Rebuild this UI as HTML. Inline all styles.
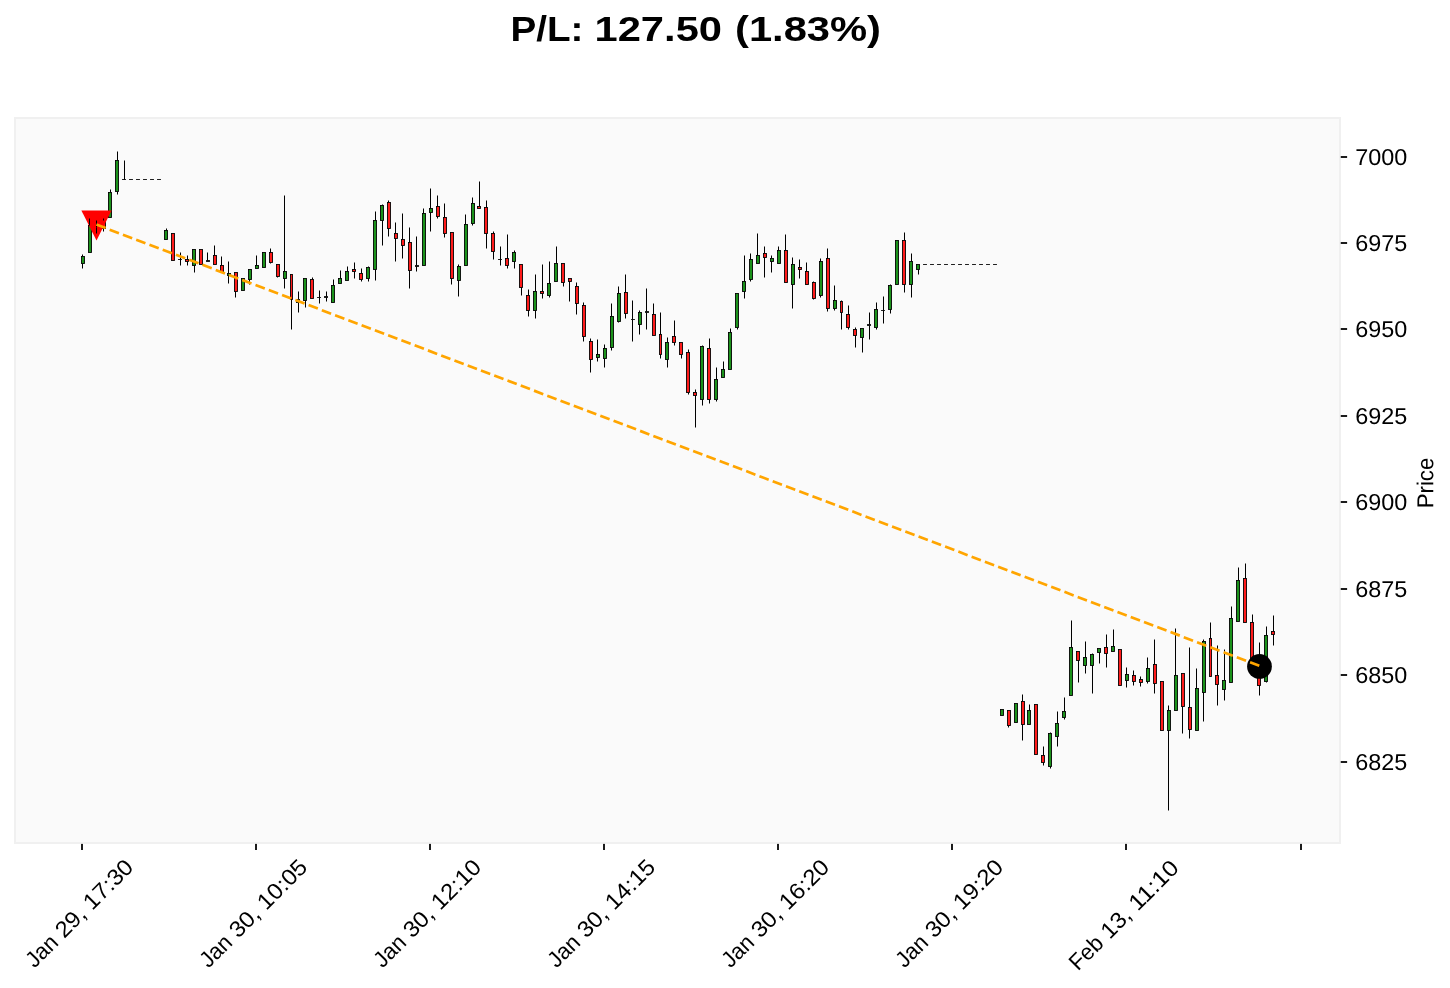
<!DOCTYPE html>
<html><head><meta charset="utf-8"><title>P/L chart</title>
<style>html,body{margin:0;padding:0;background:#fff;}body{width:1450px;height:988px;overflow:hidden;}svg{display:block;will-change:transform;}text{font-family:"Liberation Sans",sans-serif;fill:#000;}</style>
</head><body>
<svg width="1450" height="988" viewBox="0 0 1450 988">
<rect x="0" y="0" width="1450" height="988" fill="#ffffff"/>
<rect x="15" y="118" width="1325" height="725" fill="#fafafa" stroke="#f0f0f0" stroke-width="2"/>
<g font-size="35.3" font-weight="bold">
<text x="510.5" y="40.9" textLength="73" lengthAdjust="spacingAndGlyphs">P/L:</text>
<text x="594.5" y="40.9" textLength="127.5" lengthAdjust="spacingAndGlyphs">127.50</text>
<text x="735" y="40.9" textLength="146" lengthAdjust="spacingAndGlyphs">(1.83%)</text>
</g>
<rect x="1340.75" y="156" width="6.35" height="2" fill="#1c1c1c"/>
<text transform="translate(1355.2,165.10) rotate(0.03)" font-size="23.0" textLength="52" lengthAdjust="spacingAndGlyphs">7000</text>
<rect x="1340.75" y="242" width="6.35" height="2" fill="#1c1c1c"/>
<text transform="translate(1355.2,251.10) rotate(0.03)" font-size="23.0" textLength="52" lengthAdjust="spacingAndGlyphs">6975</text>
<rect x="1340.75" y="328" width="6.35" height="2" fill="#1c1c1c"/>
<text transform="translate(1355.2,337.10) rotate(0.03)" font-size="23.0" textLength="52" lengthAdjust="spacingAndGlyphs">6950</text>
<rect x="1340.75" y="415" width="6.35" height="2" fill="#1c1c1c"/>
<text transform="translate(1355.2,424.10) rotate(0.03)" font-size="23.0" textLength="52" lengthAdjust="spacingAndGlyphs">6925</text>
<rect x="1340.75" y="501" width="6.35" height="2" fill="#1c1c1c"/>
<text transform="translate(1355.2,510.10) rotate(0.03)" font-size="23.0" textLength="52" lengthAdjust="spacingAndGlyphs">6900</text>
<rect x="1340.75" y="588" width="6.35" height="2" fill="#1c1c1c"/>
<text transform="translate(1355.2,597.10) rotate(0.03)" font-size="23.0" textLength="52" lengthAdjust="spacingAndGlyphs">6875</text>
<rect x="1340.75" y="674" width="6.35" height="2" fill="#1c1c1c"/>
<text transform="translate(1355.2,683.10) rotate(0.03)" font-size="23.0" textLength="52" lengthAdjust="spacingAndGlyphs">6850</text>
<rect x="1340.75" y="761" width="6.35" height="2" fill="#1c1c1c"/>
<text transform="translate(1355.2,770.10) rotate(0.03)" font-size="23.0" textLength="52" lengthAdjust="spacingAndGlyphs">6825</text>
<text transform="translate(1433.3,508.3) rotate(-89.96)" font-size="23.0" textLength="50.6" lengthAdjust="spacingAndGlyphs">Price</text>
<rect x="81" y="843.9" width="2" height="6.1" fill="#1c1c1c"/>
<g transform="translate(134.80,868.50) rotate(-45)" font-size="22.6">
<text x="-141.82" y="0" textLength="35.40" lengthAdjust="spacingAndGlyphs">Jan</text>
<text x="-99.80" y="0" textLength="33.10" lengthAdjust="spacingAndGlyphs">29,</text>
<text x="-60.00" y="0" textLength="60.00" lengthAdjust="spacingAndGlyphs">17:30</text>
</g>
<rect x="255" y="843.9" width="2" height="6.1" fill="#1c1c1c"/>
<g transform="translate(308.80,868.50) rotate(-45)" font-size="22.6">
<text x="-141.82" y="0" textLength="35.40" lengthAdjust="spacingAndGlyphs">Jan</text>
<text x="-99.80" y="0" textLength="33.10" lengthAdjust="spacingAndGlyphs">30,</text>
<text x="-60.00" y="0" textLength="60.00" lengthAdjust="spacingAndGlyphs">10:05</text>
</g>
<rect x="429" y="843.9" width="2" height="6.1" fill="#1c1c1c"/>
<g transform="translate(482.80,868.50) rotate(-45)" font-size="22.6">
<text x="-141.82" y="0" textLength="35.40" lengthAdjust="spacingAndGlyphs">Jan</text>
<text x="-99.80" y="0" textLength="33.10" lengthAdjust="spacingAndGlyphs">30,</text>
<text x="-60.00" y="0" textLength="60.00" lengthAdjust="spacingAndGlyphs">12:10</text>
</g>
<rect x="603" y="843.9" width="2" height="6.1" fill="#1c1c1c"/>
<g transform="translate(656.80,868.50) rotate(-45)" font-size="22.6">
<text x="-141.82" y="0" textLength="35.40" lengthAdjust="spacingAndGlyphs">Jan</text>
<text x="-99.80" y="0" textLength="33.10" lengthAdjust="spacingAndGlyphs">30,</text>
<text x="-60.00" y="0" textLength="60.00" lengthAdjust="spacingAndGlyphs">14:15</text>
</g>
<rect x="777" y="843.9" width="2" height="6.1" fill="#1c1c1c"/>
<g transform="translate(830.80,868.50) rotate(-45)" font-size="22.6">
<text x="-141.82" y="0" textLength="35.40" lengthAdjust="spacingAndGlyphs">Jan</text>
<text x="-99.80" y="0" textLength="33.10" lengthAdjust="spacingAndGlyphs">30,</text>
<text x="-60.00" y="0" textLength="60.00" lengthAdjust="spacingAndGlyphs">16:20</text>
</g>
<rect x="951" y="843.9" width="2" height="6.1" fill="#1c1c1c"/>
<g transform="translate(1004.80,868.50) rotate(-45)" font-size="22.6">
<text x="-141.82" y="0" textLength="35.40" lengthAdjust="spacingAndGlyphs">Jan</text>
<text x="-99.80" y="0" textLength="33.10" lengthAdjust="spacingAndGlyphs">30,</text>
<text x="-60.00" y="0" textLength="60.00" lengthAdjust="spacingAndGlyphs">19:20</text>
</g>
<rect x="1125" y="843.9" width="2" height="6.1" fill="#1c1c1c"/>
<g transform="translate(1180.20,869.40) rotate(-45)" font-size="22.6">
<text x="-144.42" y="0" textLength="38.00" lengthAdjust="spacingAndGlyphs">Feb</text>
<text x="-99.80" y="0" textLength="33.10" lengthAdjust="spacingAndGlyphs">13,</text>
<text x="-60.00" y="0" textLength="60.00" lengthAdjust="spacingAndGlyphs">11:10</text>
</g>
<rect x="1300" y="843.9" width="2" height="6.1" fill="#1c1c1c"/>
<g stroke="#000" stroke-width="0.88">
<rect x="81.5" y="256.5" width="3" height="7" fill="#1b921b"/>
<rect x="88.5" y="225.5" width="3" height="27" fill="#1b921b"/>
<rect x="102.5" y="220.5" width="3" height="8" fill="#ff1b1b"/>
<rect x="108.5" y="192.5" width="3" height="25" fill="#1b921b"/>
<rect x="115.5" y="160.5" width="3" height="31" fill="#1b921b"/>
<rect x="164.5" y="230.5" width="3" height="9" fill="#1b921b"/>
<rect x="171.5" y="233.5" width="3" height="27" fill="#ff1b1b"/>
<rect x="185.5" y="259.5" width="3" height="2" fill="#ff1b1b"/>
<rect x="192.5" y="249.5" width="3" height="16" fill="#1b921b"/>
<rect x="199.5" y="249.5" width="3" height="15" fill="#ff1b1b"/>
<rect x="213.5" y="255.5" width="3" height="9" fill="#ff1b1b"/>
<rect x="220.5" y="265.5" width="3" height="7" fill="#ff1b1b"/>
<rect x="227.5" y="273.5" width="3" height="2" fill="#1b921b"/>
<rect x="234.5" y="272.5" width="3" height="19" fill="#ff1b1b"/>
<rect x="241.5" y="278.5" width="3" height="12" fill="#1b921b"/>
<rect x="248.5" y="269.5" width="3" height="10" fill="#1b921b"/>
<rect x="255.5" y="265.5" width="3" height="3" fill="#1b921b"/>
<rect x="262.5" y="252.5" width="3" height="15" fill="#1b921b"/>
<rect x="269.5" y="252.5" width="3" height="10" fill="#ff1b1b"/>
<rect x="276.5" y="264.5" width="3" height="12" fill="#ff1b1b"/>
<rect x="283.5" y="271.5" width="3" height="7" fill="#1b921b"/>
<rect x="290.5" y="274.5" width="2" height="25" fill="#ff1b1b"/>
<rect x="296.5" y="299.5" width="3" height="3" fill="#1b921b"/>
<rect x="303.5" y="278.5" width="3" height="22" fill="#1b921b"/>
<rect x="310.5" y="279.5" width="3" height="19" fill="#ff1b1b"/>
<rect x="331.5" y="285.5" width="3" height="17" fill="#1b921b"/>
<rect x="338.5" y="278.5" width="3" height="5" fill="#1b921b"/>
<rect x="345.5" y="271.5" width="3" height="9" fill="#1b921b"/>
<rect x="352.5" y="269.5" width="3" height="2" fill="#ff1b1b"/>
<rect x="359.5" y="273.5" width="3" height="6" fill="#ff1b1b"/>
<rect x="366.5" y="267.5" width="3" height="11" fill="#1b921b"/>
<rect x="373.5" y="220.5" width="3" height="49" fill="#1b921b"/>
<rect x="380.5" y="205.5" width="3" height="15" fill="#1b921b"/>
<rect x="387.5" y="202.5" width="3" height="26" fill="#ff1b1b"/>
<rect x="394.5" y="233.5" width="3" height="5" fill="#ff1b1b"/>
<rect x="401.5" y="239.5" width="3" height="6" fill="#ff1b1b"/>
<rect x="408.5" y="242.5" width="3" height="28" fill="#ff1b1b"/>
<rect x="422.5" y="213.5" width="3" height="52" fill="#1b921b"/>
<rect x="429.5" y="208.5" width="3" height="4" fill="#1b921b"/>
<rect x="436.5" y="206.5" width="3" height="10" fill="#ff1b1b"/>
<rect x="443.5" y="217.5" width="3" height="16" fill="#ff1b1b"/>
<rect x="450.5" y="232.5" width="3" height="46" fill="#ff1b1b"/>
<rect x="457.5" y="266.5" width="3" height="14" fill="#1b921b"/>
<rect x="464.5" y="224.5" width="3" height="41" fill="#1b921b"/>
<rect x="471.5" y="203.5" width="3" height="20" fill="#1b921b"/>
<rect x="477.5" y="206.5" width="3" height="2" fill="#ff1b1b"/>
<rect x="484.5" y="207.5" width="3" height="26" fill="#ff1b1b"/>
<rect x="491.5" y="233.5" width="3" height="18" fill="#ff1b1b"/>
<rect x="505.5" y="258.5" width="3" height="7" fill="#ff1b1b"/>
<rect x="512.5" y="252.5" width="3" height="9" fill="#1b921b"/>
<rect x="519.5" y="264.5" width="3" height="23" fill="#ff1b1b"/>
<rect x="526.5" y="295.5" width="3" height="15" fill="#ff1b1b"/>
<rect x="533.5" y="291.5" width="3" height="19" fill="#1b921b"/>
<rect x="540.5" y="291.5" width="3" height="2" fill="#ff1b1b"/>
<rect x="547.5" y="283.5" width="3" height="12" fill="#1b921b"/>
<rect x="554.5" y="263.5" width="3" height="18" fill="#1b921b"/>
<rect x="561.5" y="263.5" width="3" height="19" fill="#ff1b1b"/>
<rect x="568.5" y="278.5" width="3" height="3" fill="#ff1b1b"/>
<rect x="575.5" y="286.5" width="3" height="17" fill="#ff1b1b"/>
<rect x="582.5" y="305.5" width="3" height="31" fill="#ff1b1b"/>
<rect x="589.5" y="341.5" width="3" height="18" fill="#ff1b1b"/>
<rect x="596.5" y="354.5" width="3" height="3" fill="#1b921b"/>
<rect x="603.5" y="348.5" width="3" height="10" fill="#1b921b"/>
<rect x="610.5" y="316.5" width="3" height="31" fill="#1b921b"/>
<rect x="617.5" y="293.5" width="3" height="28" fill="#1b921b"/>
<rect x="624.5" y="292.5" width="3" height="21" fill="#ff1b1b"/>
<rect x="638.5" y="312.5" width="3" height="12" fill="#1b921b"/>
<rect x="652.5" y="314.5" width="3" height="21" fill="#ff1b1b"/>
<rect x="659.5" y="334.5" width="2" height="20" fill="#ff1b1b"/>
<rect x="665.5" y="342.5" width="3" height="17" fill="#1b921b"/>
<rect x="672.5" y="336.5" width="3" height="6" fill="#ff1b1b"/>
<rect x="679.5" y="342.5" width="3" height="12" fill="#ff1b1b"/>
<rect x="686.5" y="352.5" width="3" height="40" fill="#ff1b1b"/>
<rect x="693.5" y="392.5" width="3" height="3" fill="#ff1b1b"/>
<rect x="700.5" y="346.5" width="3" height="53" fill="#1b921b"/>
<rect x="707.5" y="348.5" width="3" height="51" fill="#ff1b1b"/>
<rect x="714.5" y="379.5" width="3" height="20" fill="#1b921b"/>
<rect x="721.5" y="369.5" width="3" height="8" fill="#1b921b"/>
<rect x="728.5" y="332.5" width="3" height="37" fill="#1b921b"/>
<rect x="735.5" y="293.5" width="3" height="34" fill="#1b921b"/>
<rect x="742.5" y="281.5" width="3" height="10" fill="#1b921b"/>
<rect x="749.5" y="259.5" width="3" height="20" fill="#1b921b"/>
<rect x="756.5" y="255.5" width="3" height="8" fill="#1b921b"/>
<rect x="763.5" y="253.5" width="3" height="4" fill="#ff1b1b"/>
<rect x="770.5" y="258.5" width="3" height="3" fill="#1b921b"/>
<rect x="777.5" y="250.5" width="3" height="13" fill="#1b921b"/>
<rect x="784.5" y="250.5" width="3" height="32" fill="#ff1b1b"/>
<rect x="791.5" y="264.5" width="3" height="20" fill="#1b921b"/>
<rect x="798.5" y="267.5" width="3" height="2" fill="#ff1b1b"/>
<rect x="805.5" y="271.5" width="3" height="13" fill="#ff1b1b"/>
<rect x="812.5" y="282.5" width="3" height="16" fill="#ff1b1b"/>
<rect x="819.5" y="261.5" width="3" height="34" fill="#1b921b"/>
<rect x="826.5" y="258.5" width="3" height="50" fill="#ff1b1b"/>
<rect x="833.5" y="300.5" width="3" height="8" fill="#1b921b"/>
<rect x="840.5" y="301.5" width="2" height="11" fill="#ff1b1b"/>
<rect x="846.5" y="314.5" width="3" height="13" fill="#ff1b1b"/>
<rect x="853.5" y="329.5" width="3" height="6" fill="#ff1b1b"/>
<rect x="860.5" y="328.5" width="3" height="9" fill="#1b921b"/>
<rect x="874.5" y="309.5" width="3" height="18" fill="#1b921b"/>
<rect x="888.5" y="285.5" width="3" height="24" fill="#1b921b"/>
<rect x="895.5" y="240.5" width="3" height="44" fill="#1b921b"/>
<rect x="902.5" y="240.5" width="3" height="44" fill="#ff1b1b"/>
<rect x="909.5" y="261.5" width="3" height="23" fill="#1b921b"/>
<rect x="916.5" y="264.5" width="3" height="5" fill="#1b921b"/>
<rect x="1000.5" y="709.5" width="3" height="6" fill="#1b921b"/>
<rect x="1007.5" y="710.5" width="3" height="15" fill="#ff1b1b"/>
<rect x="1014.5" y="703.5" width="3" height="19" fill="#1b921b"/>
<rect x="1021.5" y="701.5" width="3" height="23" fill="#ff1b1b"/>
<rect x="1027.5" y="710.5" width="3" height="14" fill="#1b921b"/>
<rect x="1034.5" y="704.5" width="3" height="50" fill="#ff1b1b"/>
<rect x="1041.5" y="755.5" width="3" height="7" fill="#ff1b1b"/>
<rect x="1048.5" y="733.5" width="3" height="33" fill="#1b921b"/>
<rect x="1055.5" y="723.5" width="3" height="13" fill="#1b921b"/>
<rect x="1062.5" y="711.5" width="3" height="6" fill="#1b921b"/>
<rect x="1069.5" y="647.5" width="3" height="48" fill="#1b921b"/>
<rect x="1076.5" y="651.5" width="3" height="9" fill="#ff1b1b"/>
<rect x="1083.5" y="657.5" width="3" height="8" fill="#1b921b"/>
<rect x="1090.5" y="654.5" width="3" height="11" fill="#1b921b"/>
<rect x="1097.5" y="648.5" width="3" height="4" fill="#1b921b"/>
<rect x="1104.5" y="647.5" width="3" height="6" fill="#ff1b1b"/>
<rect x="1111.5" y="646.5" width="3" height="5" fill="#1b921b"/>
<rect x="1118.5" y="649.5" width="3" height="36" fill="#ff1b1b"/>
<rect x="1125.5" y="674.5" width="3" height="6" fill="#1b921b"/>
<rect x="1132.5" y="675.5" width="3" height="6" fill="#ff1b1b"/>
<rect x="1139.5" y="679.5" width="3" height="3" fill="#ff1b1b"/>
<rect x="1146.5" y="668.5" width="3" height="13" fill="#1b921b"/>
<rect x="1153.5" y="664.5" width="3" height="19" fill="#ff1b1b"/>
<rect x="1160.5" y="681.5" width="3" height="49" fill="#ff1b1b"/>
<rect x="1167.5" y="710.5" width="3" height="20" fill="#1b921b"/>
<rect x="1174.5" y="675.5" width="3" height="35" fill="#1b921b"/>
<rect x="1181.5" y="673.5" width="3" height="33" fill="#ff1b1b"/>
<rect x="1188.5" y="707.5" width="3" height="22" fill="#ff1b1b"/>
<rect x="1195.5" y="688.5" width="3" height="42" fill="#1b921b"/>
<rect x="1202.5" y="641.5" width="3" height="51" fill="#1b921b"/>
<rect x="1209.5" y="638.5" width="2" height="38" fill="#ff1b1b"/>
<rect x="1215.5" y="675.5" width="3" height="9" fill="#ff1b1b"/>
<rect x="1222.5" y="680.5" width="3" height="9" fill="#1b921b"/>
<rect x="1229.5" y="618.5" width="3" height="64" fill="#1b921b"/>
<rect x="1236.5" y="580.5" width="3" height="41" fill="#1b921b"/>
<rect x="1243.5" y="578.5" width="3" height="44" fill="#ff1b1b"/>
<rect x="1250.5" y="622.5" width="3" height="43" fill="#ff1b1b"/>
<rect x="1257.5" y="656.5" width="3" height="29" fill="#ff1b1b"/>
<rect x="1264.5" y="635.5" width="3" height="46" fill="#1b921b"/>
<rect x="1271.5" y="631.5" width="3" height="3" fill="#ff1b1b"/>
</g>
<polygon points="81.4,210.6 111.6,210.6 96.5,240.6" fill="#ff0000"/>
<circle cx="1259.5" cy="666.4" r="12.4" fill="#000"/>
<path d="M82.5 254.5V256.5M82.5 263.5V268.5M89.5 218.5V225.5M96.5 220.5V227.5M96.5 227.5V233.5M103.5 218.5V220.5M103.5 228.5V231.5M110.5 189.5V192.5M117.5 151.5V160.5M117.5 191.5V194.5M124.5 160.5V179.5M166.5 228.5V230.5M180.5 252.5V259.5M180.5 259.5V265.5M187.5 255.5V259.5M187.5 261.5V265.5M194.5 265.5V272.5M207.5 252.5V260.5M214.5 245.5V255.5M221.5 256.5V265.5M228.5 261.5V273.5M228.5 275.5V283.5M235.5 291.5V297.5M249.5 279.5V284.5M256.5 255.5V265.5M270.5 248.5V252.5M270.5 262.5V263.5M277.5 276.5V277.5M284.5 195.5V271.5M284.5 278.5V288.5M291.5 299.5V329.5M298.5 291.5V299.5M298.5 302.5V312.5M305.5 300.5V307.5M312.5 277.5V279.5M319.5 290.5V297.5M319.5 297.5V303.5M326.5 291.5V296.5M326.5 297.5V301.5M333.5 279.5V285.5M340.5 270.5V278.5M347.5 266.5V271.5M354.5 262.5V269.5M354.5 271.5V278.5M361.5 268.5V273.5M361.5 279.5V281.5M368.5 266.5V267.5M368.5 278.5V281.5M375.5 211.5V220.5M375.5 269.5V280.5M382.5 204.5V205.5M382.5 220.5V245.5M388.5 200.5V202.5M388.5 228.5V236.5M395.5 222.5V233.5M395.5 238.5V261.5M402.5 213.5V239.5M402.5 245.5V258.5M409.5 227.5V242.5M409.5 270.5V288.5M416.5 236.5V265.5M416.5 266.5V271.5M423.5 208.5V213.5M430.5 188.5V208.5M430.5 212.5V231.5M437.5 195.5V206.5M437.5 216.5V218.5M444.5 203.5V217.5M444.5 233.5V237.5M451.5 278.5V284.5M458.5 264.5V266.5M458.5 280.5V296.5M465.5 214.5V224.5M472.5 197.5V203.5M472.5 223.5V225.5M479.5 181.5V206.5M486.5 200.5V207.5M486.5 233.5V248.5M493.5 231.5V233.5M493.5 251.5V259.5M500.5 246.5V259.5M500.5 259.5V265.5M507.5 234.5V258.5M507.5 265.5V268.5M514.5 250.5V252.5M514.5 261.5V268.5M521.5 287.5V295.5M528.5 289.5V295.5M528.5 310.5V316.5M535.5 274.5V291.5M535.5 310.5V318.5M542.5 264.5V291.5M542.5 293.5V298.5M549.5 261.5V283.5M549.5 295.5V297.5M556.5 246.5V263.5M563.5 282.5V286.5M569.5 281.5V301.5M576.5 282.5V286.5M576.5 303.5V314.5M583.5 302.5V305.5M583.5 336.5V341.5M590.5 338.5V341.5M590.5 359.5V372.5M597.5 339.5V354.5M597.5 357.5V361.5M604.5 344.5V348.5M604.5 358.5V367.5M611.5 303.5V316.5M611.5 347.5V350.5M618.5 286.5V293.5M618.5 321.5V322.5M625.5 274.5V292.5M625.5 313.5V318.5M632.5 300.5V319.5M632.5 319.5V341.5M639.5 310.5V312.5M639.5 324.5V334.5M646.5 288.5V311.5M646.5 312.5V329.5M653.5 303.5V314.5M660.5 312.5V334.5M660.5 354.5V358.5M667.5 337.5V342.5M667.5 359.5V367.5M674.5 320.5V336.5M674.5 342.5V345.5M681.5 354.5V358.5M688.5 349.5V352.5M688.5 392.5V394.5M695.5 389.5V392.5M695.5 395.5V427.5M702.5 345.5V346.5M702.5 399.5V405.5M709.5 338.5V348.5M709.5 399.5V403.5M716.5 367.5V379.5M716.5 399.5V401.5M723.5 361.5V369.5M730.5 328.5V332.5M737.5 327.5V329.5M744.5 255.5V281.5M744.5 291.5V298.5M750.5 253.5V259.5M750.5 279.5V281.5M757.5 233.5V255.5M764.5 246.5V253.5M764.5 257.5V277.5M771.5 255.5V258.5M771.5 261.5V272.5M778.5 246.5V250.5M785.5 234.5V250.5M792.5 257.5V264.5M792.5 284.5V308.5M799.5 259.5V267.5M799.5 269.5V278.5M806.5 262.5V271.5M813.5 281.5V282.5M813.5 298.5V299.5M820.5 258.5V261.5M820.5 295.5V297.5M827.5 248.5V258.5M827.5 308.5V311.5M834.5 285.5V300.5M834.5 308.5V310.5M841.5 300.5V301.5M841.5 312.5V329.5M848.5 305.5V314.5M848.5 327.5V329.5M855.5 327.5V329.5M855.5 335.5V347.5M862.5 337.5V352.5M869.5 312.5V324.5M869.5 325.5V339.5M876.5 302.5V309.5M876.5 327.5V329.5M883.5 296.5V310.5M883.5 310.5V323.5M890.5 284.5V285.5M890.5 309.5V313.5M904.5 232.5V240.5M904.5 284.5V292.5M911.5 253.5V261.5M911.5 284.5V297.5M918.5 269.5V274.5M1008.5 725.5V727.5M1022.5 694.5V701.5M1022.5 724.5V740.5M1029.5 704.5V710.5M1043.5 746.5V755.5M1043.5 762.5V765.5M1050.5 732.5V733.5M1050.5 766.5V768.5M1057.5 711.5V723.5M1057.5 736.5V746.5M1064.5 697.5V711.5M1064.5 717.5V719.5M1071.5 620.5V647.5M1078.5 660.5V682.5M1085.5 641.5V657.5M1085.5 665.5V673.5M1092.5 653.5V654.5M1092.5 665.5V693.5M1099.5 652.5V663.5M1106.5 634.5V647.5M1106.5 653.5V667.5M1113.5 629.5V646.5M1126.5 667.5V674.5M1126.5 680.5V687.5M1133.5 670.5V675.5M1133.5 681.5V685.5M1140.5 676.5V679.5M1140.5 682.5V686.5M1147.5 657.5V668.5M1147.5 681.5V683.5M1154.5 639.5V664.5M1154.5 683.5V693.5M1168.5 705.5V710.5M1168.5 730.5V810.5M1175.5 628.5V675.5M1182.5 706.5V733.5M1189.5 647.5V707.5M1189.5 729.5V738.5M1196.5 668.5V688.5M1203.5 639.5V641.5M1203.5 692.5V721.5M1210.5 622.5V638.5M1217.5 645.5V675.5M1217.5 684.5V705.5M1224.5 649.5V680.5M1224.5 689.5V700.5M1231.5 606.5V618.5M1238.5 567.5V580.5M1245.5 563.5V578.5M1252.5 614.5V622.5M1259.5 642.5V656.5M1259.5 685.5V695.5M1266.5 626.5V635.5M1266.5 681.5V682.5M1273.5 615.5V631.5M1273.5 634.5V645.5" stroke="#000" stroke-width="1" fill="none"/>
<path d="M122.05 179.5H125.95M178.05 259.5H181.95M206.05 260.5H209.95M206.05 261.5H209.95M317.05 297.5H320.95M324.05 296.5H327.95M324.05 297.5H327.95M415.05 265.5H418.95M415.05 266.5H418.95M498.05 259.5H501.95M631.05 319.5H634.95M645.05 311.5H648.95M645.05 312.5H648.95M867.05 324.5H870.95M867.05 325.5H870.95M881.05 310.5H884.95M129.05 179.5H132.95M136.05 179.5H139.95M143.05 179.5H146.95M150.05 179.5H153.95M157.05 179.5H160.95M923.05 264.5H926.95M930.05 264.5H933.95M937.05 264.5H940.95M944.05 264.5H947.95M951.05 264.5H954.95M958.05 264.5H961.95M965.05 264.5H968.95M972.05 264.5H975.95M979.05 264.5H982.95M986.05 264.5H989.95M993.05 264.5H996.95" stroke="#000" stroke-width="0.88" fill="none"/>
<line x1="96.4" y1="224.6" x2="1259.3" y2="665.8" stroke="#ffa500" stroke-width="2.68" stroke-dasharray="9.901 4.282"/>
</svg>
</body></html>
